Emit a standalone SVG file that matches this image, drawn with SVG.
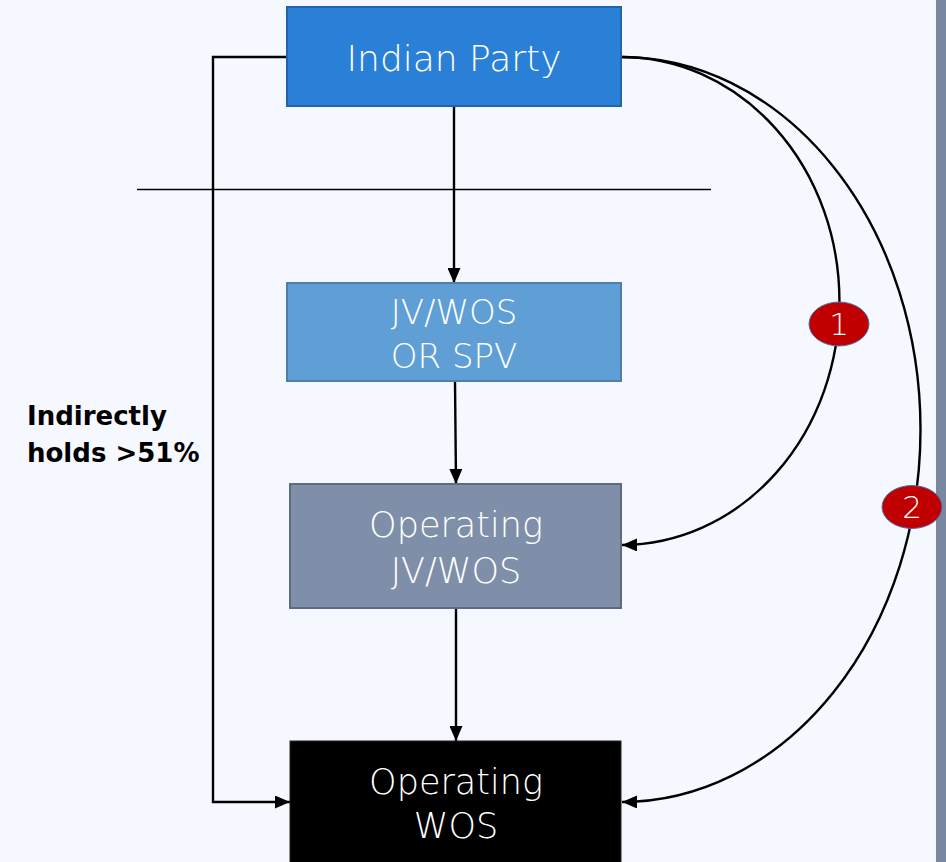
<svg xmlns="http://www.w3.org/2000/svg" width="946" height="862" viewBox="0 0 946 862">
<style>
.box-t{font-family:"DejaVu Sans",Lato,"Liberation Sans",sans-serif;font-weight:200;fill:#fff;text-anchor:middle}
.ln{fill:none;stroke:#000;stroke-width:2.4}
.badge{fill:#c00000;stroke:#4a6fb5;stroke-width:1}
.badge-t{font-family:"DejaVu Sans",Lato,"Liberation Sans",sans-serif;font-weight:200;fill:#fff;font-size:31px;text-anchor:middle}
.lbl{font-family:"DejaVu Sans","Liberation Sans",sans-serif;font-weight:700;font-size:26px;fill:#000}
</style>
<defs>
<marker id="ah" viewBox="0 0 15 13" refX="15" refY="6.5" markerWidth="15" markerHeight="13" markerUnits="userSpaceOnUse" orient="auto">
<path d="M0,0 L15,6.5 L0,13 Z" fill="#000"/>
</marker>
</defs>
<rect width="946" height="862" fill="#f5f8fe"/>
<rect x="936" y="0" width="10" height="862" fill="#7788a0"/>
<line x1="137" y1="189.5" x2="711" y2="189.5" stroke="#000" stroke-width="1.3"/>
<g id="connectors">
<path class="ln" d="M454,106 L454,283" marker-end="url(#ah)"/>
<path class="ln" d="M455,381 L456,484" marker-end="url(#ah)"/>
<path class="ln" d="M456,608 L456,741" marker-end="url(#ah)"/>
<path class="ln" d="M287,57 L213,57 L213,802 L290,802" marker-end="url(#ah)"/>
<path class="ln" d="M621,57 A218,244 0 0 1 622,545" marker-end="url(#ah)"/>
<path class="ln" d="M621,57 A299,372.5 0 0 1 622,802" marker-end="url(#ah)"/>
</g>
<g id="indian-party">
<rect x="287" y="7" width="334" height="99" fill="#2a7fd6" stroke="#2263ad" stroke-width="2"/>
<text class="box-t" x="454" y="71" font-size="36">Indian Party</text>
</g>
<g id="jv-spv">
<rect x="287" y="283" width="334" height="98" fill="#5f9fd6" stroke="#4a7fb0" stroke-width="2"/>
<text class="box-t" x="454" y="324" font-size="34">JV/WOS</text>
<text class="box-t" x="454" y="368" font-size="34">OR SPV</text>
</g>
<g id="operating-jv">
<rect x="290" y="484" width="331" height="124" fill="#7f8fa9" stroke="#5d6b82" stroke-width="2"/>
<text class="box-t" x="456" y="537" font-size="35">Operating</text>
<text class="box-t" x="456" y="583" font-size="35">JV/WOS</text>
</g>
<g id="operating-wos">
<rect x="290" y="741" width="331" height="130" fill="#000" stroke="#222" stroke-width="1"/>
<text class="box-t" x="456" y="794" font-size="35">Operating</text>
<text class="box-t" x="456" y="838" font-size="35">WOS</text>
</g>
<g id="badge-1">
<ellipse class="badge" cx="839" cy="324" rx="30" ry="22"/>
<text class="badge-t" x="839" y="335">1</text>
</g>
<g id="badge-2">
<ellipse class="badge" cx="912" cy="507" rx="30" ry="21.5"/>
<text class="badge-t" x="912" y="518">2</text>
</g>
<g id="label">
<text class="lbl" x="27" y="425">Indirectly</text>
<text class="lbl" x="27" y="462">holds &gt;51%</text>
</g>
</svg>
